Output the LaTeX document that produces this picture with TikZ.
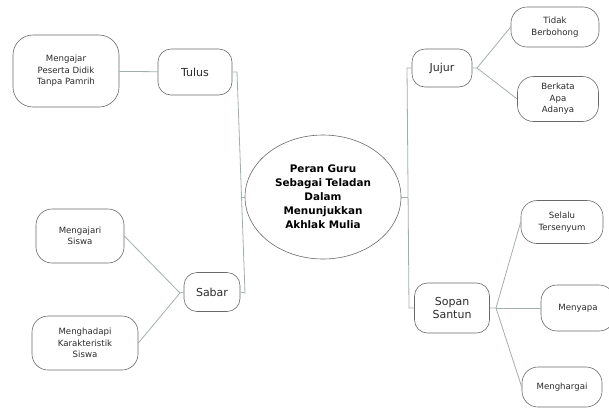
\documentclass[tikz,border=0pt]{standalone}
\usepackage{fontspec}
\setmainfont{DejaVu Sans}
\usetikzlibrary{shapes.geometric}
\definecolor{lineC}{HTML}{A3AFAD}
\definecolor{boxC}{HTML}{6A6A6A}
\definecolor{txtC}{HTML}{2A2A2A}
\begin{document}
\begin{tikzpicture}[x=1pt,y=-1pt,
  leaf/.style={draw=boxC, line width=0.6pt, rounded corners=16pt, align=center,
    inner sep=0pt, font=\fontsize{8.6}{11.5}\selectfont, text=txtC},
  mid/.style={leaf, rounded corners=13pt, font=\fontsize{11}{13.5}\selectfont},
  hub/.style={draw=boxC, line width=0.6pt, ellipse, align=center, inner sep=0pt,
    minimum width=156pt, minimum height=124pt, font=\fontsize{10.4}{14}\selectfont\bfseries},
  conn/.style={draw=lineC, line width=0.8pt}]
\useasboundingbox (0,0) rectangle (609,408);

% centre
\node[hub] (hub) at (323,197) {Peran Guru\\Sebagai Teladan\\Dalam\\Menunjukkan\\Akhlak Mulia};

% left branch
\node[mid, minimum width=74pt, minimum height=46pt] (tulus) at (195,72) {Tulus};
\node[leaf, rounded corners=20pt, minimum width=106pt, minimum height=72pt] (mengajar) at (66,71) {Mengajar\\Peserta Didik\\Tanpa Pamrih};
\node[mid, minimum width=56pt, minimum height=39pt] (sabar) at (212,292) {Sabar};
\node[leaf, minimum width=88pt, minimum height=54pt] (mengajari) at (80,236) {Mengajari\\Siswa};
\node[leaf, minimum width=106pt, minimum height=54pt] (menghadapi) at (85,343) {Menghadapi\\Karakteristik\\Siswa};

% right branch
\node[mid, minimum width=60pt, minimum height=38pt] (jujur) at (442,68) {Jujur};
\node[leaf, minimum width=88pt, minimum height=40pt] (tidak) at (555,27) {Tidak\\Berbohong};
\node[leaf, minimum width=81pt, minimum height=45pt] (berkata) at (558,99) {Berkata\\Apa\\Adanya};
\node[mid, minimum width=75pt, minimum height=50pt] (sopan) at (452,308) {Sopan\\Santun};
\node[leaf, minimum width=82pt, minimum height=43pt] (selalu) at (562,222) {Selalu\\Tersenyum};
\node[leaf, minimum width=74pt, minimum height=46pt] (menyapa) at (578,308) {Menyapa};
\node[leaf, minimum width=80pt, minimum height=40pt] (menghargai) at (562,387) {Menghargai};

% junction points
\coordinate (lt) at (237,72);
\coordinate (lb) at (245,293);
\coordinate (lm) at (241,197);
\coordinate (rt) at (407,68);
\coordinate (rb) at (409,308);
\coordinate (rm) at (408,197);
\coordinate (sf) at (180,293);
\coordinate (jf) at (477,68);
\coordinate (pf) at (496,308);

% connectors
\draw[conn] (mengajar) -- (tulus);
\draw[conn] (tulus.east) -- (lt) -- (lb) -- (sabar.east);
\draw[conn] (hub.west) -- (lm);
\draw[conn] (sabar.west) -- (sf) -- (mengajari.east);
\draw[conn] (sf) -- (menghadapi.east);

\draw[conn] (jujur.west) -- (rt) -- (rb) -- (sopan.west);
\draw[conn] (hub.east) -- (rm);
\draw[conn] (jujur.east) -- (jf) -- (tidak.west);
\draw[conn] (jf) -- (berkata.west);
\draw[conn] (sopan.east) -- (pf) -- (selalu.west);
\draw[conn] (pf) -- (menyapa.west);
\draw[conn] (pf) -- (menghargai.west);
\end{tikzpicture}
\end{document}
